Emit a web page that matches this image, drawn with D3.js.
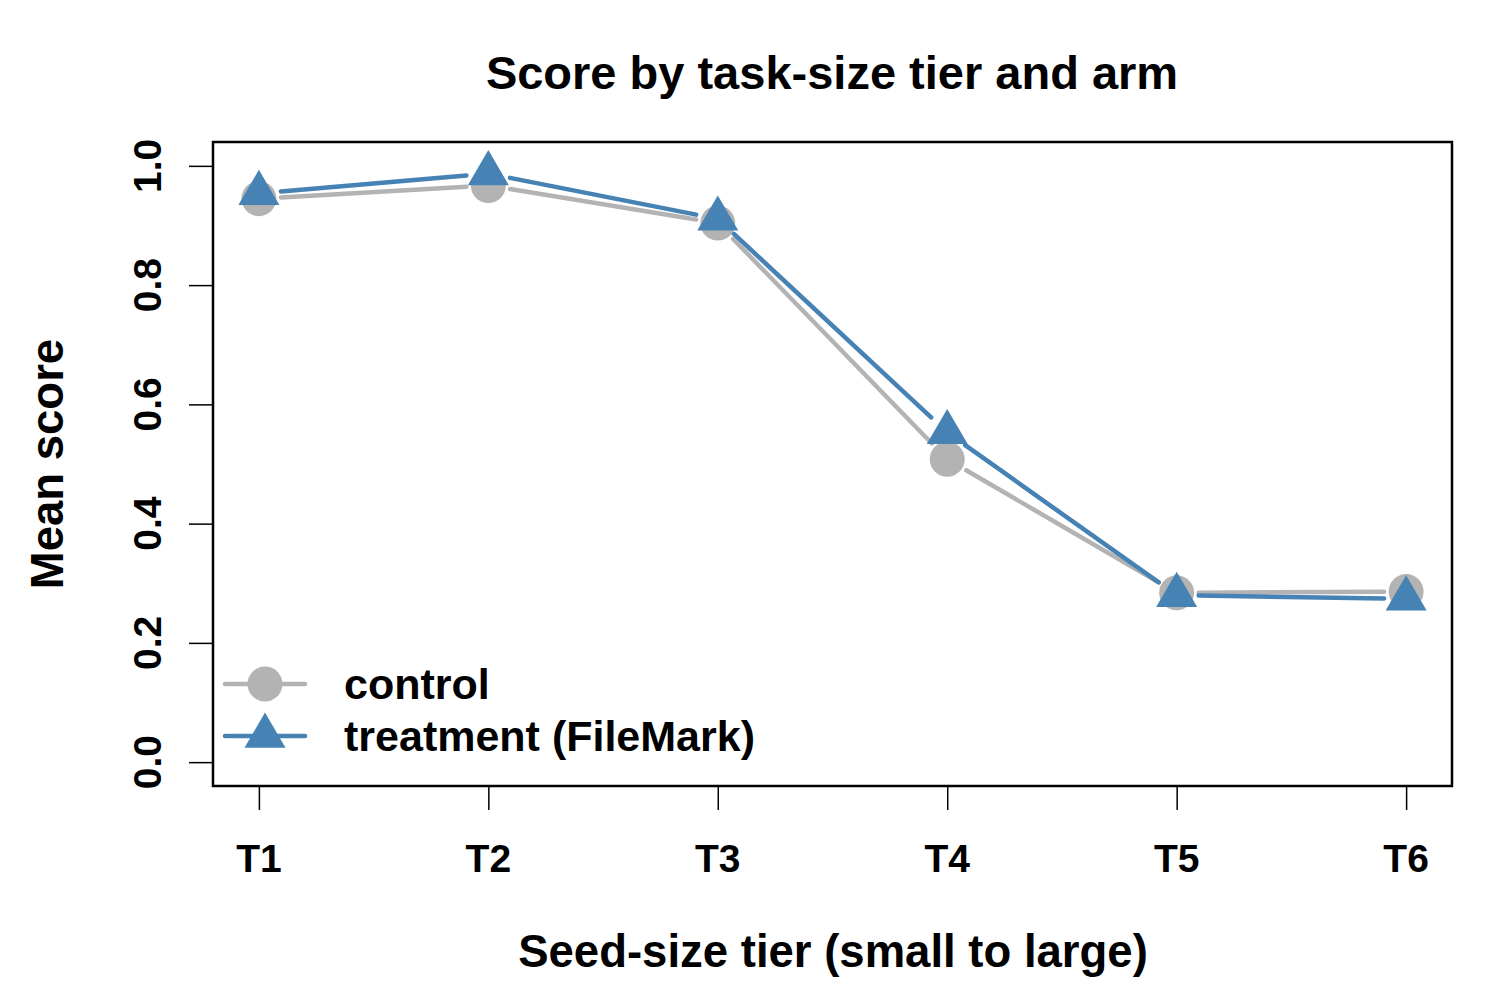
<!DOCTYPE html>
<html lang="en">
<head>
<meta charset="UTF-8">
<title>Score by task-size tier and arm</title>
<script src="https://d3js.org/d3.v7.min.js"></script>
<style>
html, body {
  margin: 0;
  padding: 0;
  background-color: white;
}
svg text {
  font-family: 'Liberation Sans', Arial, Helvetica, sans-serif;
  font-weight: bold;
  fill: black;
}
.title { font-size: 47px; }
.axis-title { font-size: 45.5px; }
.tick-label { font-size: 39px; }
.legend-text { font-size: 43px; }
</style>
</head>
<body>
<div id="chart"></div>
<script>

// --------------------------------------
// Data
// --------------------------------------

const tiers = ["T1", "T2", "T3", "T4", "T5", "T6"];
const control = [0.945, 0.967, 0.904, 0.508, 0.284, 0.286];
const treatment = [0.954, 0.987, 0.911, 0.553, 0.280, 0.274];
const yTicks = [0.0, 0.2, 0.4, 0.6, 0.8, 1.0];
const seriesNames = ["control", "treatment (FileMark)"];

// --------------------------------------
// Size and margin
// --------------------------------------

let totalWidth = 1500;
let totalHeight = 1000;
let margin = {top: 142, right: 48, bottom: 214, left: 213};

let grey = "#b3b3b3";
let blue = "#4682b4";

let svg = d3.select("#chart")
  .append("svg")
  .attr("width", totalWidth)
  .attr("height", totalHeight);

// --------------------------------------
// Scales
// --------------------------------------

let x = d3.scalePoint()
  .domain(tiers)
  .range([margin.left, totalWidth - margin.right])
  .padding(0.2);

let y = d3.scaleLinear()
  .domain([-0.04, 1.04])
  .range([totalHeight - margin.bottom, margin.top]);

// --------------------------------------
// Axes
// --------------------------------------

let xAxis = svg.append("g")
  .attr("transform", `translate(0, ${totalHeight - margin.bottom})`)
  .call(d3.axisBottom(x).tickSize(24).tickPadding(0).tickFormat(""));
xAxis.select(".domain").remove();
xAxis.selectAll("line").attr("stroke", "black").attr("stroke-width", 1.5);

svg.append("g").selectAll("text")
  .data(tiers)
  .join("text")
  .attr("class", "tick-label")
  .attr("x", d => x(d))
  .attr("y", 872)
  .attr("text-anchor", "middle")
  .text(d => d);

let yAxis = svg.append("g")
  .attr("transform", `translate(${margin.left}, 0)`)
  .call(d3.axisLeft(y).tickValues(yTicks).tickSize(24).tickFormat(""));
yAxis.select(".domain").remove();
yAxis.selectAll("line").attr("stroke", "black").attr("stroke-width", 1.5);

svg.append("g").selectAll("text")
  .data(yTicks)
  .join("text")
  .attr("class", "tick-label")
  .attr("transform", d => `translate(161, ${y(d)}) rotate(-90)`)
  .attr("text-anchor", "middle")
  .text(d => d.toFixed(1));

// plot box
svg.append("rect")
  .attr("x", margin.left)
  .attr("y", margin.top)
  .attr("width", totalWidth - margin.left - margin.right)
  .attr("height", totalHeight - margin.top - margin.bottom)
  .attr("fill", "none")
  .attr("stroke", "black")
  .attr("stroke-width", 2.5);

// --------------------------------------
// Lines and points
// --------------------------------------

let gap = 22;

// line pieces between points, shortened at both ends like type = "b"
function segments(values) {
  let out = [];
  for (let i = 0; i < values.length - 1; i++) {
    let x1 = x(tiers[i]), y1 = y(values[i]);
    let x2 = x(tiers[i + 1]), y2 = y(values[i + 1]);
    let len = Math.hypot(x2 - x1, y2 - y1);
    let dx = (x2 - x1) / len, dy = (y2 - y1) / len;
    out.push({x1: x1 + dx * gap, y1: y1 + dy * gap, x2: x2 - dx * gap, y2: y2 - dy * gap});
  }
  return out;
}

function trianglePath(cx, cy) {
  return `M${cx},${cy - 23.5} L${cx + 20.5},${cy + 11.7} L${cx - 20.5},${cy + 11.7} Z`;
}

function drawSeries(values, color, shape) {
  svg.append("g").selectAll("line")
    .data(segments(values))
    .join("line")
    .attr("x1", d => d.x1).attr("y1", d => d.y1)
    .attr("x2", d => d.x2).attr("y2", d => d.y2)
    .attr("stroke", color)
    .attr("stroke-width", 4.5)
    .attr("stroke-linecap", "round");

  if (shape === "circle") {
    svg.append("g").selectAll("circle")
      .data(values)
      .join("circle")
      .attr("cx", (d, i) => x(tiers[i]))
      .attr("cy", d => y(d))
      .attr("r", 17.5)
      .attr("fill", color);
  } else {
    svg.append("g").selectAll("path")
      .data(values)
      .join("path")
      .attr("d", (d, i) => trianglePath(x(tiers[i]), y(d)))
      .attr("fill", color);
  }
}

drawSeries(control, grey, "circle");
drawSeries(treatment, blue, "triangle");

// --------------------------------------
// Legend
// --------------------------------------

let legend = svg.append("g");
let legendRows = [
  {name: seriesNames[0], color: grey, shape: "circle", y: 684},
  {name: seriesNames[1], color: blue, shape: "triangle", y: 736}
];

legendRows.forEach(row => {
  legend.append("line")
    .attr("x1", 225).attr("x2", 305)
    .attr("y1", row.y).attr("y2", row.y)
    .attr("stroke", row.color)
    .attr("stroke-width", 4.5)
    .attr("stroke-linecap", "round");
  if (row.shape === "circle") {
    legend.append("circle")
      .attr("cx", 265).attr("cy", row.y).attr("r", 17.5)
      .attr("fill", row.color);
  } else {
    legend.append("path")
      .attr("d", trianglePath(265, row.y))
      .attr("fill", row.color);
  }
  legend.append("text")
    .attr("class", "legend-text")
    .attr("x", 344)
    .attr("y", row.y + 15)
    .text(row.name);
});

// --------------------------------------
// Titles
// --------------------------------------

svg.append("text")
  .attr("class", "title")
  .attr("x", 832)
  .attr("y", 89)
  .attr("text-anchor", "middle")
  .text("Score by task-size tier and arm");

svg.append("text")
  .attr("class", "axis-title")
  .attr("x", 833)
  .attr("y", 967)
  .attr("text-anchor", "middle")
  .text("Seed-size tier (small to large)");

svg.append("text")
  .attr("class", "axis-title")
  .attr("transform", "translate(63, 464) rotate(-90)")
  .attr("text-anchor", "middle")
  .text("Mean score");

</script>
</body>
</html>
